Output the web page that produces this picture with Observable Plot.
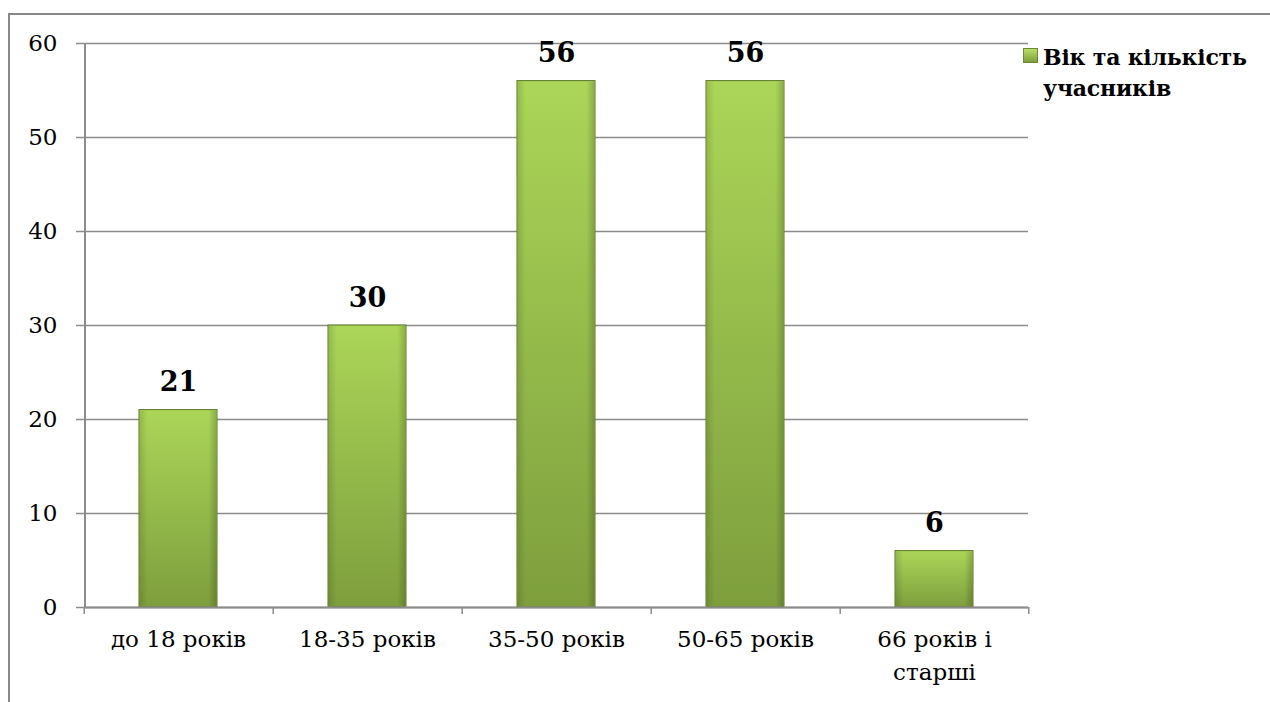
<!DOCTYPE html>
<html><head><meta charset="utf-8">
<script src="https://cdn.jsdelivr.net/npm/d3@7"></script>
<script src="https://cdn.jsdelivr.net/npm/@observablehq/plot@0.6"></script>
<style>
body{margin:0;background:#fff;width:1270px;height:702px;overflow:hidden;position:relative;font-family:"DejaVu Serif",serif;}
#frame{position:absolute;left:8px;top:13px;right:-5px;bottom:-5px;border-top:2px solid #888;border-left:2px solid #888;}
#chart{position:absolute;left:0;top:0;}
#legend{position:absolute;left:1023px;top:42px;font-weight:bold;font-size:22px;line-height:31px;color:#000;letter-spacing:-0.2px;}
#legend .sw{display:inline-block;width:13px;height:13px;background:linear-gradient(#b9df66,#7c9e3b);border:1px solid #6b8a30;margin-right:5px;vertical-align:2px;}
#legend .l2{padding-left:20px;}
</style></head><body>
<div id="frame"></div>
<div id="chart"></div>
<div id="legend"><div><span class="sw"></span>Вік та кількість</div><div class="l2">учасників</div></div>
<script>
const categories = ["до 18 років","18-35 років","35-50 років","50-65 років","66 років і старші"];
const tickLabels = ["до 18 років","18-35 років","35-50 років","50-65 років","66 років і\nстарші"];
const values = [21, 30, 56, 56, 6];
const yTicks = [0,10,20,30,40,50,60];

const data = categories.map((c,i)=>({cat:c, label:tickLabels[i], value:values[i]}));
const labelOf = new Map(categories.map((c,i)=>[c, tickLabels[i]]));
const W = 1270, H = 702, mL = 85, mR = 242, mT = 43, mB = 95;
const step = (W - mL - mR) / categories.length;
const gray = "#8c8c8c";
const font = "DejaVu Serif, serif";

const chart = Plot.plot({
  width: W, height: H,
  marginLeft: mL, marginRight: mR, marginTop: mT, marginBottom: mB,
  style: {fontFamily: font, fontSize: "23px", color: "#000", background: "transparent"},
  x: {domain: categories, paddingInner: 0.586, paddingOuter: 0.28, label: null},
  y: {domain: [0, 60], ticks: yTicks, label: null},
  marks: [
    Plot.gridY(yTicks, {stroke: gray, strokeOpacity: 1, strokeWidth: 1.5}),
    Plot.axisY(yTicks, {tickSize: 9, stroke: gray, strokeWidth: 1.5, tickPadding: 19, fontSize: 23, fontFamily: font}),
    Plot.barY(data, {x: "cat", y: "value", fill: "url(#barGrad)", stroke: "#5a7626", strokeWidth: 1, style: "filter: drop-shadow(2px 3px 2px rgba(0,0,0,0.3))"}),
    Plot.barY(data, {x: "cat", y: "value", fill: "url(#barShade)", inset: 1}),
    Plot.ruleY([0], {stroke: gray, strokeWidth: 2}),
    Plot.ruleX(categories, {x: d=>d, dx: -step/2, y1: 0, y2: -0.75, stroke: gray, strokeWidth: 1.5}),
    Plot.ruleX([categories[categories.length-1]], {x: d=>d, dx: step/2, y1: 0, y2: -0.75, stroke: gray, strokeWidth: 1.5}),
    Plot.axisX({tickSize: 0, tickPadding: 17, fontSize: 23, fontFamily: font, lineHeight: 1.4, tickFormat: d => labelOf.get(d)}),
    Plot.text(data, {x: "cat", y: "value", text: d=>String(d.value), dy: -19, lineAnchor: "bottom", fontWeight: "bold", fontSize: 27, fontFamily: font, fill: "#000"})
  ]
});

const svg = d3.select(chart);
svg.append("line").attr("x1", mL).attr("x2", mL).attr("y1", mT).attr("y2", H - mB).attr("stroke", gray).attr("stroke-width", 2);
const defs = svg.insert("defs", ":first-child");
const g = defs.append("linearGradient").attr("id","barGrad").attr("x1",0).attr("x2",0).attr("y1",0).attr("y2",1);
g.append("stop").attr("offset","0%").attr("stop-color","#abd658");
g.append("stop").attr("offset","100%").attr("stop-color","#7e9e3d");
const s = defs.append("linearGradient").attr("id","barShade").attr("x1",0).attr("x2",1).attr("y1",0).attr("y2",0);
s.append("stop").attr("offset","0%").attr("stop-color","#000").attr("stop-opacity",0.12);
s.append("stop").attr("offset","10%").attr("stop-color","#000").attr("stop-opacity",0);
s.append("stop").attr("offset","90%").attr("stop-color","#000").attr("stop-opacity",0);
s.append("stop").attr("offset","100%").attr("stop-color","#000").attr("stop-opacity",0.18);
document.getElementById("chart").appendChild(chart);
</script>
</body></html>
